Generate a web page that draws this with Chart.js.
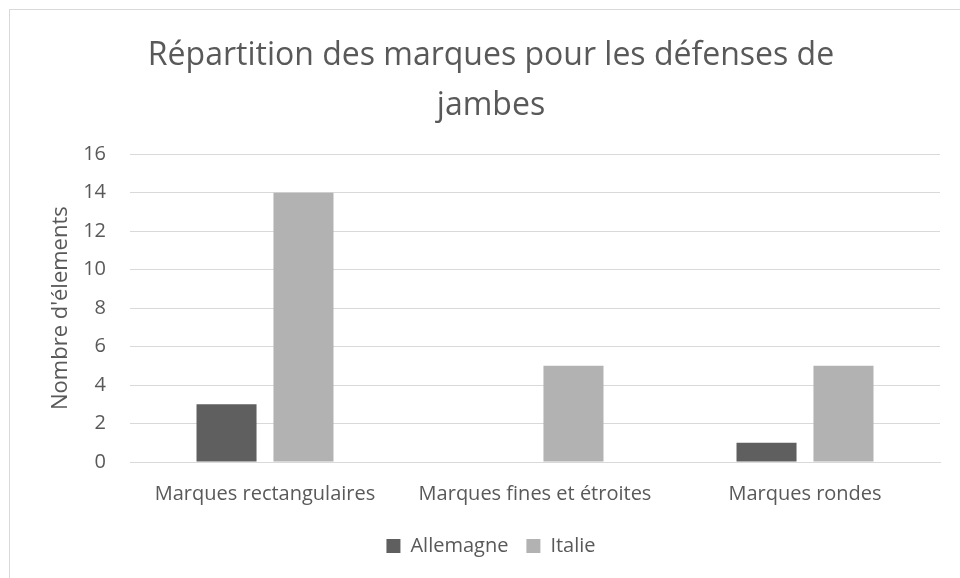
<!DOCTYPE html>
<html>
<head>
    <title>Répartition des marques</title>
    <style>
        body {
            margin: 0;
            padding: 0;
            background-color: #ffffff;
            overflow: hidden;
        }

        /* Excel-style chart frame, cropped on the right and bottom */
        .frame {
            position: absolute;
            left: 9px;
            top: 9px;
            width: 1000px;
            height: 700px;
            border: 1px solid #d9d9d9;
        }

        .wrap {
            position: absolute;
            left: 0;
            top: 0;
            width: 960px;
            height: 578px;
        }
    </style>
    <script src="https://cdn.jsdelivr.net/npm/chart.js"></script>
</head>
<body>
    <div class="frame"></div>
    <div class="wrap">
        <canvas id="myChart" width="960" height="578"></canvas>
    </div>
    <script>
        const categories = ['Marques rectangulaires', 'Marques fines et étroites', 'Marques rondes'];
        const allemagne = [3, 0, 1];
        const italie = [14, 5, 5];
        const yTicks = [0, 2, 4, 6, 8, 10, 12, 14, 16];

        const textColor = '#595959';
        const fontFamily = '"Open Sans", "Noto Sans", sans-serif';

        const ctx = document.getElementById('myChart').getContext('2d');
        const myChart = new Chart(ctx, {
            type: 'bar',
            data: {
                labels: categories,
                datasets: [{
                    label: 'Allemagne',
                    data: allemagne,
                    backgroundColor: '#5f5f5f'
                }, {
                    label: 'Italie',
                    data: italie,
                    backgroundColor: '#b2b2b2'
                }]
            },
            options: {
                responsive: false,
                animation: false,
                layout: {
                    // left padding shifts title/legend centre to match the frame
                    padding: { left: 22, right: 0, top: 0, bottom: 12 }
                },
                categoryPercentage: 0.57,
                barPercentage: 0.78,
                plugins: {
                    title: {
                        display: true,
                        text: ['Répartition des marques pour les défenses de', 'jambes'],
                        color: textColor,
                        font: { family: fontFamily, size: 32, weight: 'normal', lineHeight: 1.55 },
                        padding: { top: 31, bottom: 24 }
                    },
                    legend: {
                        position: 'bottom',
                        labels: {
                            color: textColor,
                            font: { family: fontFamily, size: 20 },
                            boxWidth: 14,
                            boxHeight: 14,
                            padding: 18
                        }
                    },
                    tooltip: { enabled: false }
                },
                scales: {
                    x: {
                        grid: { display: false, drawTicks: false },
                        border: { color: '#d9d9d9', width: 1 },
                        ticks: {
                            color: textColor,
                            font: { family: fontFamily, size: 20 },
                            padding: 20,
                            maxRotation: 0
                        },
                        afterFit: function(scale) { scale.height = 56; }
                    },
                    y: {
                        min: 0,
                        max: 16,
                        afterBuildTicks: function(scale) {
                            scale.ticks = yTicks.map(v => ({ value: v }));
                        },
                        grid: { color: '#d9d9d9', drawTicks: false },
                        border: { display: false },
                        ticks: {
                            color: textColor,
                            font: { family: fontFamily, size: 20 },
                            padding: 24
                        },
                        title: {
                            display: true,
                            text: "Nombre d'élements",
                            color: textColor,
                            font: { family: fontFamily, size: 22 },
                            padding: { top: 26, bottom: 0 }
                        },
                        afterFit: function(scale) { scale.width = 108; }
                    },
                    // empty right axis, only reserves the gap after the plot
                    yRight: {
                        position: 'right',
                        grid: { display: false },
                        border: { display: false },
                        ticks: { display: false },
                        afterFit: function(scale) { scale.width = 20; }
                    }
                }
            }
        });
    </script>
</body>
</html>
